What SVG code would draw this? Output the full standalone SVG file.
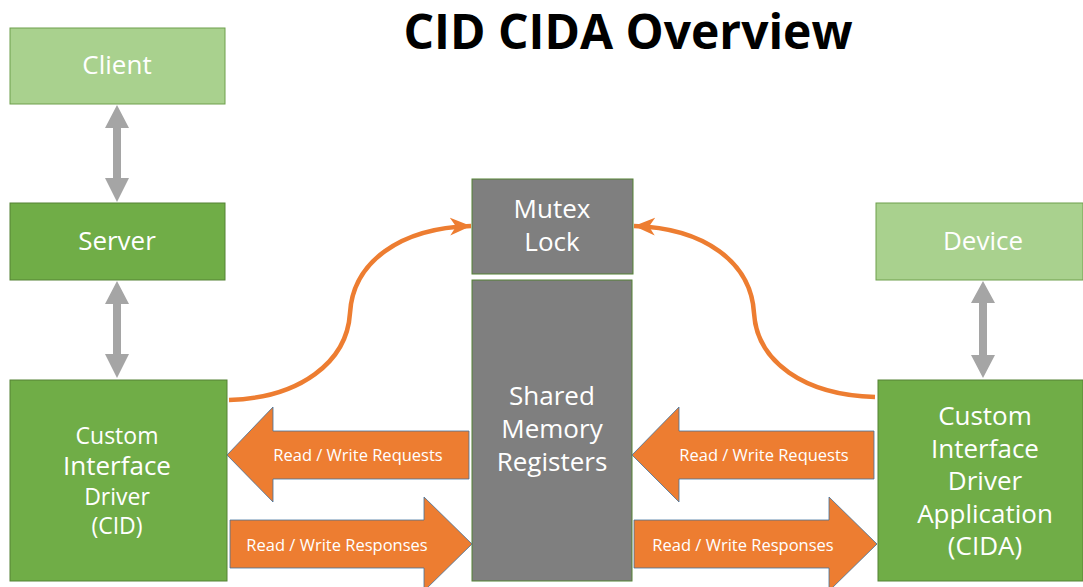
<svg xmlns="http://www.w3.org/2000/svg" width="1083" height="587" viewBox="0 0 1083 587">
<style>
.t{font-family:"Open Sans","Noto Sans","Liberation Sans",sans-serif;fill:#fff;text-anchor:middle}
.big{font-size:26px}
.mid{font-size:23px}
.lbl{font-size:16.5px}
.lg{fill:#A9D18E;stroke:#6E9F4C;stroke-width:1}
.dg{fill:#70AD47;stroke:#548235;stroke-width:1}
.gr{fill:#7F7F7F;stroke:#548235;stroke-width:1}
.blk{fill:#ED7D31;stroke:#41719C;stroke-width:0.8}
.ga{fill:#A5A5A5}
.cv{fill:none;stroke:#ED7D31;stroke-width:4.5}
</style>
<defs>
<marker id="ah" markerUnits="userSpaceOnUse" markerWidth="24" markerHeight="24" viewBox="0 0 24 24" refX="21" refY="12" orient="auto">
<path d="M0,3 L21,12 L0,21 L6,12 z" fill="#ED7D31"/>
</marker>
</defs>
<rect width="1083" height="587" fill="#fff"/>
<text x="628" y="49" style="font-family:'Open Sans','Noto Sans','Liberation Sans',sans-serif;font-weight:bold;font-size:48px;fill:#000;text-anchor:middle">CID CIDA Overview</text>

<g id="client"><rect class="lg" x="10" y="28" width="215" height="76"/><text class="t big" x="117" y="74">Client</text></g>
<g id="server"><rect class="dg" x="10" y="203" width="215" height="77"/><text class="t big" x="117" y="250">Server</text></g>
<g id="cid"><rect class="dg" x="10" y="380" width="217" height="201"/>
<text class="t mid" x="117" y="444">Custom</text>
<text class="t big" x="117" y="475">Interface</text>
<text class="t mid" x="117" y="505">Driver</text>
<text class="t mid" x="117" y="534">(CID)</text></g>
<g id="mutex"><rect class="gr" x="472" y="179" width="161" height="95"/>
<text class="t big" x="552" y="218">Mutex</text>
<text class="t big" x="552" y="251">Lock</text></g>
<g id="shared"><rect class="gr" x="472" y="280" width="160" height="301"/>
<text class="t big" x="552" y="405">Shared</text>
<text class="t big" x="552" y="438">Memory</text>
<text class="t big" x="552" y="471">Registers</text></g>
<g id="device"><rect class="lg" x="876" y="203" width="207" height="77"/><text class="t big" x="983" y="250">Device</text></g>
<g id="cida"><rect class="dg" x="878" y="380" width="205" height="201"/>
<text class="t big" x="985" y="425">Custom</text>
<text class="t big" x="985" y="458">Interface</text>
<text class="t big" x="985" y="490">Driver</text>
<text class="t big" x="985" y="523">Application</text>
<text class="t big" x="985" y="555">(CIDA)</text></g>

<g id="connectors">
<polygon class="ga" points="117,105 129,128 121,128 121,178 129,178 117,202 105,178 113,178 113,128 105,128"/>
<polygon class="ga" points="117,281 129,304 121,304 121,354 129,354 117,378 105,354 113,354 113,304 105,304"/>
<polygon class="ga" points="983,281 995,303 987,303 987,355 995,355 983,378 971,355 979,355 979,303 971,303"/>
<path class="cv" marker-end="url(#ah)" d="M229,400 C300,398 347,362 350,313 C353,262 400,228 471,226"/>
<path class="cv" marker-end="url(#ah)" d="M875,397 C804,395 757,362 754,313 C751,262 704,228 634,226"/>
<polygon class="blk" points="227,455 273,407 273,431 469,431 469,479 273,479 273,502"/>
<polygon class="blk" points="230,520 424,520 424,497 472,544 424,591 424,568 230,568"/>
<polygon class="blk" points="632,455 679,407 679,431 874,431 874,479 679,479 679,502"/>
<polygon class="blk" points="634,520 829,520 829,497 877,544 829,591 829,568 634,568"/>
<text class="t lbl" x="358" y="461">Read / Write Requests</text>
<text class="t lbl" x="337" y="551">Read / Write Responses</text>
<text class="t lbl" x="764" y="461">Read / Write Requests</text>
<text class="t lbl" x="743" y="551">Read / Write Responses</text>
</g>
</svg>
